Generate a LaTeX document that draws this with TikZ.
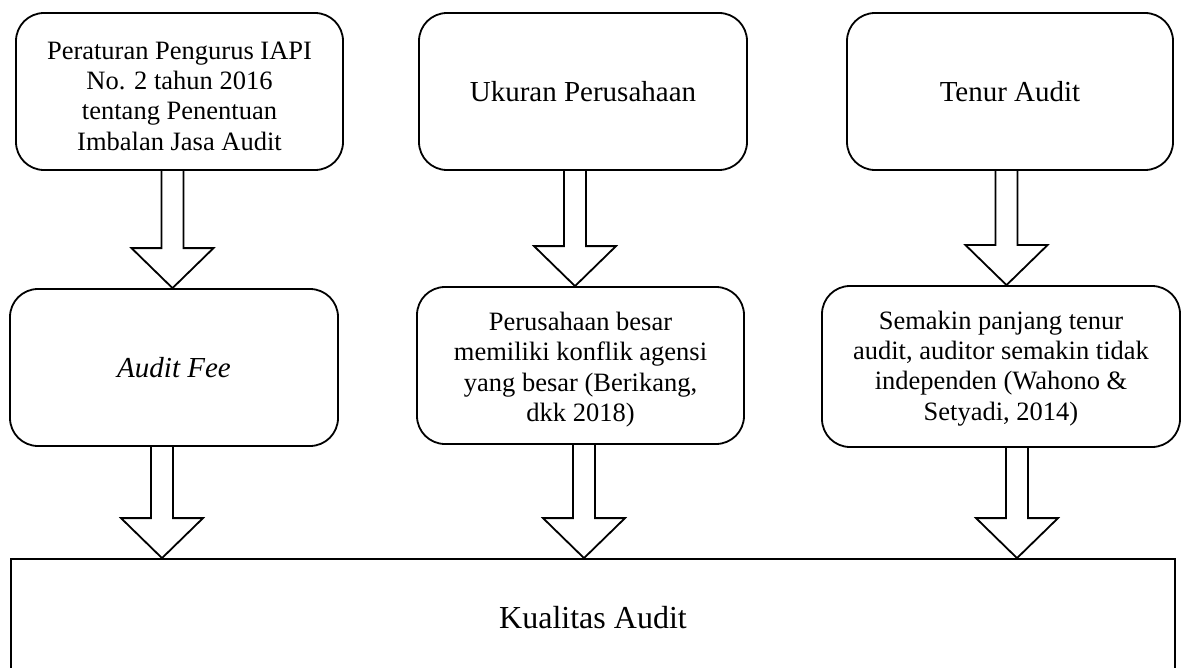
\documentclass[tikz,border=0pt]{standalone}
\usepackage{fontspec}
\setmainfont{Liberation Serif}
\usetikzlibrary{calc}
\tikzset{
  rbox/.style={draw, line width=1.8pt, rounded corners=28pt, align=center, inner sep=0pt,
    font=\fontsize{29}{33}\selectfont},
  txt/.style={align=center, inner sep=0pt, font=\fontsize{26.5}{30.3}\selectfont},
  bigbox/.style={draw, line width=1.8pt, align=center, inner sep=0pt,
    font=\fontsize{32}{36}\selectfont},
  blk/.style={draw, line width=1.8pt, line join=miter}
}
\newcommand{\blockarrow}[3]{%
  \draw[blk] let \p1=(#2.south), \p2=(#3.north) in
    (#1pt-11pt,\y1) -- (#1pt-11pt,\y2+40pt) -- (#1pt-41pt,\y2+40pt) -- (#1pt,\y2)
    -- (#1pt+41pt,\y2+40pt) -- (#1pt+11pt,\y2+40pt) -- (#1pt+11pt,\y1);}
\begin{document}
\begin{tikzpicture}[x=1pt,y=-1pt]
\clip (0,0) rectangle (1182,668);
% top row
\node[rbox, minimum width=327pt, minimum height=157pt] (p1) at (179.5,91.5) {};
\node[txt] (p1t) at (179.5,96) 
  {Peraturan Pengurus IAPI\\No. 2 tahun 2016\\tentang Penentuan\\Imbalan Jasa Audit};
\node[rbox, minimum width=328pt, minimum height=157pt] (p2) at (583,91.5)
  {Ukuran Perusahaan};
\node[rbox, minimum width=326pt, minimum height=157pt] (p3) at (1010,91.5)
  {Tenur Audit};
% middle row
\node[rbox, minimum width=328pt, minimum height=157pt] (m1) at (174,367.5)
  {\textit{Audit Fee}};
\node[rbox, minimum width=327pt, minimum height=157pt] (m2) at (580.5,365.5) {};
\node[txt] (m2t) at (580.5,369.5)
  {Perusahaan besar\\memiliki konflik agensi\\yang besar (Berikang,\\dkk 2018)};
\node[rbox, minimum width=358pt, minimum height=161pt] (m3) at (1001,366.5) {};
\node[txt] (m3t) at (1001,368.5)
  {Semakin panjang tenur\\audit, auditor semakin tidak\\independen (Wahono \&\\Setyadi, 2014)};
% bottom box
\node[bigbox, minimum width=1164pt, minimum height=118pt] (kq) at (593,618)
  {Kualitas Audit};
% block arrows
\blockarrow{172.5}{p1}{m1}
\blockarrow{575}{p2}{m2}
\blockarrow{1006.5}{p3}{m3}
\blockarrow{162}{m1}{kq}
\blockarrow{584}{m2}{kq}
\blockarrow{1017}{m3}{kq}
\end{tikzpicture}
\end{document}
